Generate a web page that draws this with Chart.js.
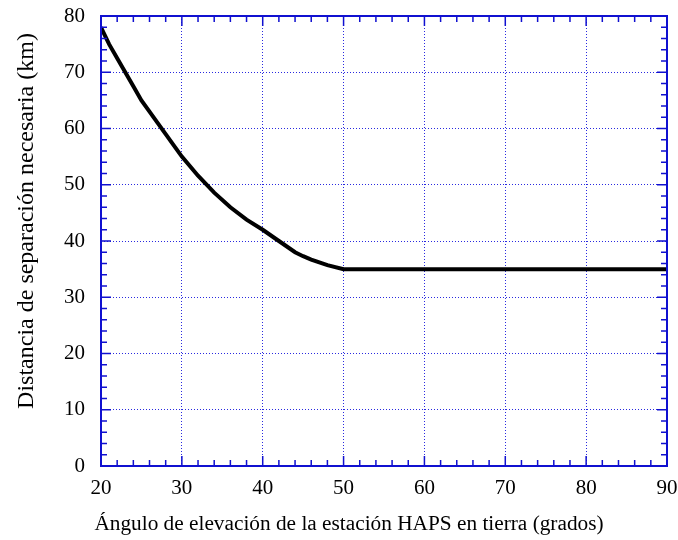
<!DOCTYPE html>
<html>
<head>
<meta charset="utf-8">
<script src="https://cdn.jsdelivr.net/npm/chart.js@4/dist/chart.umd.min.js"></script>
<style>
  body { margin: 0; background: #fff; }
  #wrap { width: 678px; height: 540px; }
</style>
</head>
<body>
<div id="wrap"><canvas id="chart" width="678" height="540"></canvas></div>
<script>
// elevation angle (deg) and required separation distance (km)
const angles = [20, 21, 22, 23, 24, 25, 26, 27, 28, 29, 30, 32, 34, 36, 38, 40, 42, 44, 45, 46, 48, 50, 90];
const distances = [78, 75, 72.5, 70, 67.5, 65, 63, 61, 59, 57, 55, 51.6, 48.6, 46, 43.8, 42, 40, 38, 37.3, 36.7, 35.7, 35, 35];

const xTicks = [20, 30, 40, 50, 60, 70, 80, 90];
const yTicks = [0, 10, 20, 30, 40, 50, 60, 70, 80];
const minorStep = 2;

const xTitle = 'Ángulo de elevación de la estación HAPS en tierra (grados)';
const yTitle = 'Distancia de separación necesaria (km)';

const fontFamily = '"Liberation Serif", "Times New Roman", serif';
const font = { family: fontFamily, size: 21 };
const axisBlue = '#1010d0';

// inward tick marks on all four sides + frame
const frameTicks = {
  id: 'frameTicks',
  afterDatasetsDraw(chart) {
    const { ctx, chartArea: a, scales: { x, y } } = chart;
    ctx.save();
    ctx.strokeStyle = axisBlue;
    ctx.lineWidth = 1.5;
    for (let v = x.min; v <= x.max; v += minorStep) {
      const px = x.getPixelForValue(v);
      const len = v % 10 === 0 ? 10 : 6;
      ctx.beginPath();
      ctx.moveTo(px, a.bottom); ctx.lineTo(px, a.bottom - len);
      ctx.moveTo(px, a.top); ctx.lineTo(px, a.top + len);
      ctx.stroke();
    }
    for (let v = y.min; v <= y.max; v += minorStep) {
      const py = y.getPixelForValue(v);
      const len = v % 10 === 0 ? 10 : 6;
      ctx.beginPath();
      ctx.moveTo(a.left, py); ctx.lineTo(a.left + len, py);
      ctx.moveTo(a.right, py); ctx.lineTo(a.right - len, py);
      ctx.stroke();
    }
    ctx.lineWidth = 2;
    ctx.strokeRect(a.left, a.top, a.right - a.left, a.bottom - a.top);
    ctx.restore();
  }
};

// axis titles, placed where the original has them (slightly off-centre)
const axisTitles = {
  id: 'axisTitles',
  afterDraw(chart) {
    const { ctx } = chart;
    ctx.save();
    ctx.fillStyle = '#000';
    ctx.textAlign = 'center';
    ctx.textBaseline = 'alphabetic';
    ctx.font = `21.3px ${fontFamily}`;
    ctx.fillText(xTitle, 349, 530);
    ctx.font = `24px ${fontFamily}`;
    ctx.translate(33, 221);
    ctx.rotate(-Math.PI / 2);
    ctx.fillText(yTitle, 0, 0);
    ctx.restore();
  }
};

new Chart(document.getElementById('chart'), {
  type: 'line',
  data: {
    datasets: [{
      data: angles.map((a, i) => ({ x: a, y: distances[i] })),
      borderColor: '#000',
      borderWidth: 4,
      pointRadius: 0,
      tension: 0,
      fill: false
    }]
  },
  options: {
    responsive: false,
    animation: false,
    layout: { padding: { top: 16, right: 11, left: 0, bottom: 0 } },
    plugins: { legend: { display: false }, tooltip: { enabled: false } },
    scales: {
      x: {
        type: 'linear',
        min: 20, max: 90,
        afterBuildTicks: s => { s.ticks = xTicks.map(v => ({ value: v })); },
        afterFit: s => { s.height = 74; s.paddingLeft = 0; s.paddingRight = 0; },
        grid: { color: '#2a2ae0', lineWidth: 1, drawTicks: false },
        border: { display: false, dash: [1, 2] },
        ticks: { color: '#000', font, padding: 10, maxRotation: 0 }
      },
      y: {
        min: 0, max: 80,
        afterBuildTicks: s => { s.ticks = yTicks.map(v => ({ value: v })); },
        afterFit: s => { s.width = 101; s.paddingTop = 0; s.paddingBottom = 0; },
        grid: { color: '#2a2ae0', lineWidth: 1, drawTicks: false },
        border: { display: false, dash: [1, 2] },
        ticks: { color: '#000', font, padding: 16 }
      }
    }
  },
  plugins: [frameTicks, axisTitles]
});
</script>
</body>
</html>
